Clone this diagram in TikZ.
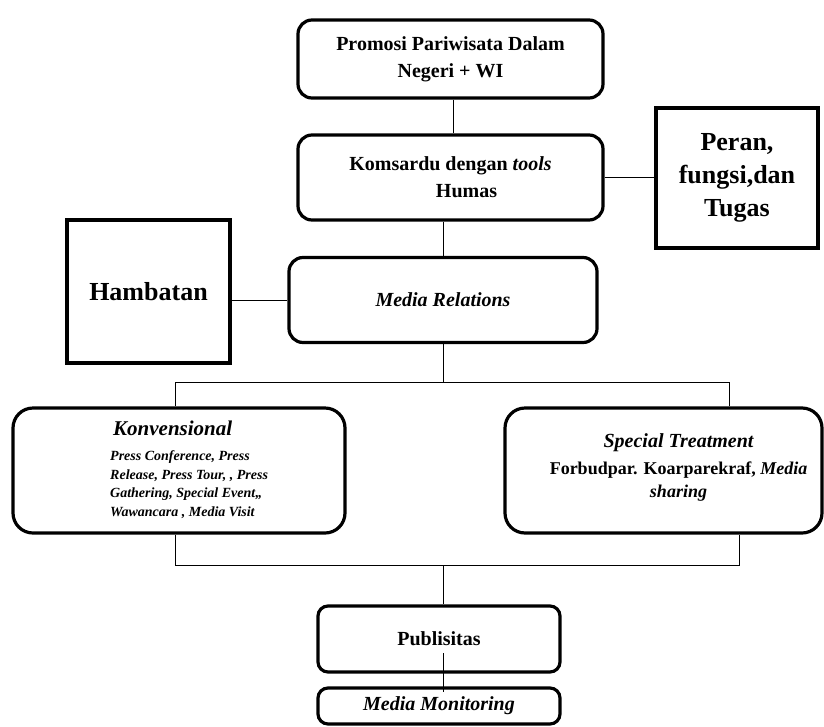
\documentclass[tikz,border=0pt]{standalone}
\usepackage{fontspec}
\setmainfont{Liberation Serif}
\usetikzlibrary{positioning}
\begin{document}
\begin{tikzpicture}[x=1pt,y=-1pt,
  rbox/.style={draw,line width=3.2pt,rounded corners=14pt,inner sep=0pt,align=center,font=\bfseries\fontsize{20}{27}\selectfont},
  sbox/.style={draw,line width=3.6pt,inner sep=0pt,align=center,font=\bfseries\fontsize{26}{33}\selectfont},
  link/.style={line width=.8pt}]
\useasboundingbox (0,0) rectangle (824,726);
\node[rbox,minimum width=305pt,minimum height=78pt] (promosi) at (450.5,59) {Promosi Pariwisata Dalam\\Negeri + WI};
\node[rbox,minimum width=305pt,minimum height=85pt] (komsardu) at (450.5,177.5) {Komsardu dengan \textit{tools}\\\hspace*{32pt}Humas};
\node[sbox,minimum width=162pt,minimum height=140pt] (peran) at (737,178) {Peran,\\fungsi,dan\\Tugas};
\node[sbox,minimum width=163pt,minimum height=143pt] (hambatan) at (148.5,291.5) {Hambatan};
\node[rbox,minimum width=308pt,minimum height=85pt] (media) at (443,300) {\textit{Media Relations}};
\node[rbox,rounded corners=20pt,minimum width=332pt,minimum height=125pt] (konv) at (179,470.5) {};
\node[anchor=west,inner sep=0pt,align=left,font=\bfseries\itshape\fontsize{14}{18.5}\selectfont] (konvtext) at ([xshift=-69pt,yshift=1pt]konv.center) {\hspace{3pt}{\fontsize{21}{21}\selectfont Konvensional}\\[7pt]Press Conference, Press\\Release, Press Tour, , Press\\Gathering, Special Event,,\\Wawancara , Media Visit};
\node[rbox,rounded corners=20pt,minimum width=317pt,minimum height=125pt] (special) at (663.5,470.5) {};
\node[inner sep=0pt,align=center,font=\bfseries\fontsize{18}{23}\selectfont] (specialtext) at ([xshift=15pt,yshift=3pt]special.center) {{\fontsize{20}{20}\selectfont\itshape Special Treatment}\\[4pt]Forbudpar. Koarparekraf, \textit{Media}\\\textit{sharing}};
\node[rbox,rounded corners=10pt,minimum width=242pt,minimum height=66pt] (publ) at (439,639) {Publisitas};
\node[rbox,rounded corners=10pt,minimum width=242pt,minimum height=36pt] (monit) at (439,706) {\textit{Media Monitoring}};
\coordinate (top-l) at (175,382);\coordinate (top-r) at (729,382);
\coordinate (bot-l) at (175,565);\coordinate (bot-r) at (739,565);
\draw[link] ([xshift=2.5pt]promosi.south)--([xshift=2.5pt]komsardu.north);
\draw[link] (komsardu.east)--(komsardu.east -| peran.west);
\draw[link] (media.north |- komsardu.south)--(media.north);
\draw[link] (media.west -| hambatan.east)--(media.west);
\draw[link] (media.south)--(media.south |- top-l);
\draw[link] (top-l |- konv.north)--(top-l)--(top-r)--(top-r |- special.north);
\draw[link] (bot-l |- konv.south)--(bot-l)--(bot-r)--(bot-r |- special.south);
\draw[link] (bot-l -| media.south)--(publ.north -| media.south);
\draw[link] ([xshift=4pt,yshift=-14pt]publ.center)--([xshift=4pt,yshift=-6pt]monit.north);
\end{tikzpicture}
\end{document}
